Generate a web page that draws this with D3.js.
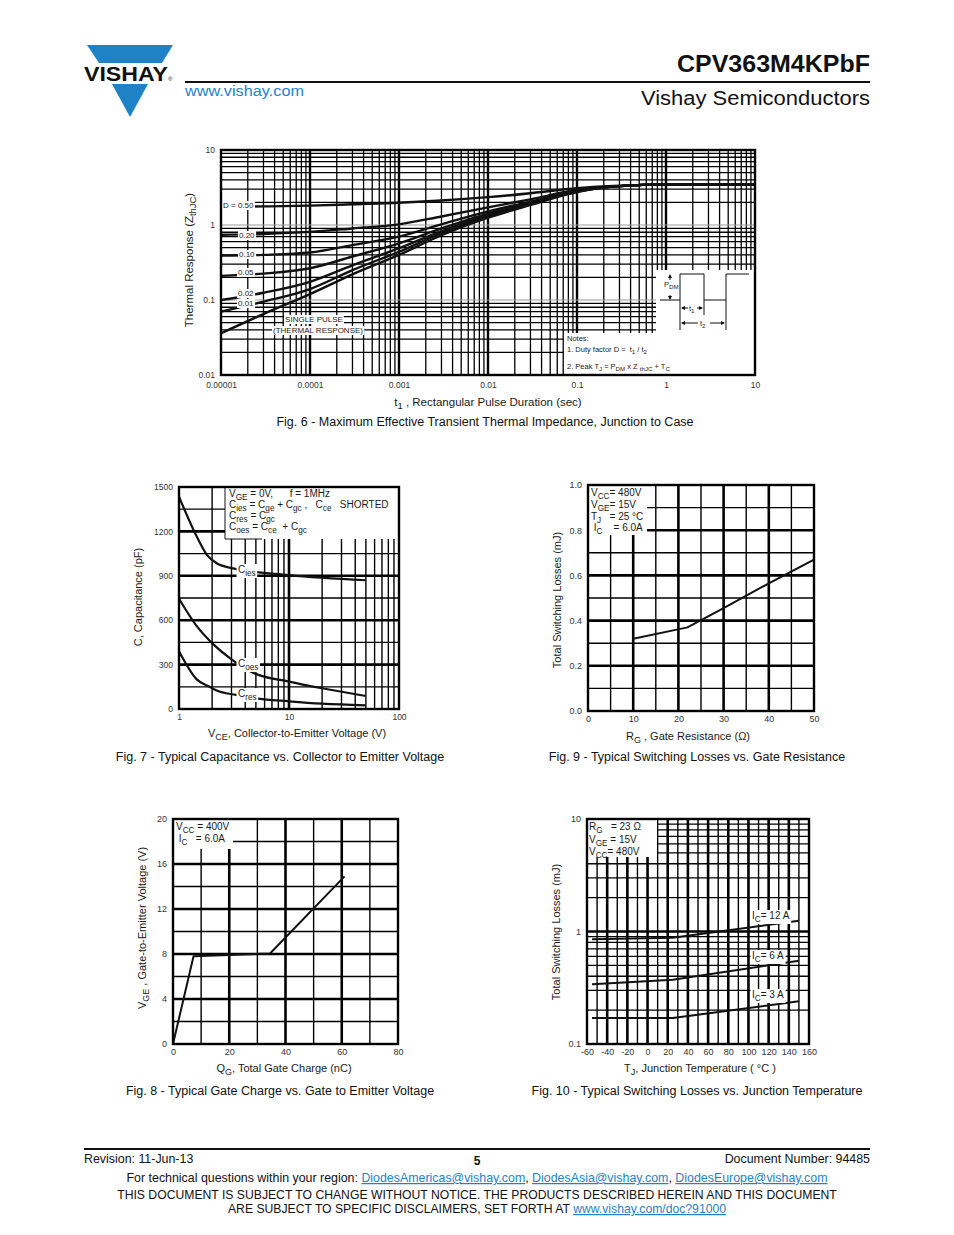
<!DOCTYPE html>
<html>
<head>
<meta charset="utf-8">
<title>CPV363M4KPbF - page 5</title>
<script src="https://cdnjs.cloudflare.com/ajax/libs/d3/7.8.5/d3.min.js"></script>
<style>
  body { margin: 0; background: #fff; }
  svg { display: block; font-family: "Liberation Sans", Arial, Helvetica, sans-serif; }
  text { white-space: pre; }
</style>
</head>
<body>
<svg id="page" width="954" height="1235"></svg>
<script>
// ---------- Fig 6 : transient thermal impedance ----------
const f6Time   = [1e-5, 3e-5, 1e-4, 3e-4, 1e-3, 3e-3, 1e-2, 3e-2, 0.1, 0.3, 1, 10];
const f6D050   = [1.75, 1.77, 1.81, 1.89, 1.98, 2.12, 2.35, 2.65, 3.10, 3.35, 3.45, 3.45];
const f6D020   = [0.74, 0.76, 0.81, 0.90, 1.02, 1.30, 1.72, 2.20, 2.95, 3.30, 3.45, 3.45];
const f6D010   = [0.39, 0.40, 0.43, 0.54, 0.70, 1.02, 1.52, 2.05, 2.90, 3.30, 3.45, 3.45];
const f6D005   = [0.21, 0.225, 0.265, 0.38, 0.57, 0.90, 1.42, 2.00, 2.85, 3.30, 3.45, 3.45];
const f6D002   = [0.10, 0.125, 0.175, 0.29, 0.49, 0.83, 1.35, 1.95, 2.80, 3.30, 3.45, 3.45];
const f6D001   = [0.07, 0.095, 0.14, 0.25, 0.44, 0.78, 1.30, 1.90, 2.78, 3.30, 3.45, 3.45];
const f6Single = [0.036, 0.065, 0.12, 0.22, 0.40, 0.73, 1.25, 1.85, 2.75, 3.30, 3.45, 3.45];
const f6XTicks  = [1e-5, 1e-4, 1e-3, 1e-2, 0.1, 1, 10];
const f6XLabels = ["0.00001", "0.0001", "0.001", "0.01", "0.1", "1", "10"];
const f6YTicks  = [0.01, 0.1, 1, 10];
const f6YLabels = ["0.01", "0.1", "1", "10"];

// ---------- Fig 7 : capacitance ----------
const f7CiesV = [1, 1.45, 1.8, 2.2, 3.1, 10, 50];
const f7Cies  = [1435, 1165, 1040, 985, 950, 905, 870];
const f7CoesV = [1, 1.45, 2, 3, 4.7, 10, 20, 50];
const f7Coes  = [745, 560, 445, 335, 245, 185, 140, 88];
const f7CresV = [1, 1.45, 1.9, 2.2, 3.3, 5, 10, 20, 50];
const f7Cres  = [390, 200, 150, 125, 95, 72, 52, 36, 25];
const f7XTicks  = [1, 10, 100];
const f7XLabels = ["1", "10", "100"];
const f7YTicks  = [0, 300, 600, 900, 1200, 1500];

// ---------- Fig 9 : losses vs gate resistance ----------
const f9Rg   = [10, 22, 30, 40, 50];
const f9Loss = [0.32, 0.37, 0.455, 0.565, 0.67];
const f9XTicks = [0, 10, 20, 30, 40, 50];
const f9YTicks = [0, 0.2, 0.4, 0.6, 0.8, 1.0];

// ---------- Fig 8 : gate charge ----------
const f8Qg  = [0, 7.3, 20, 34.5, 61];
const f8Vge = [0, 7.8, 7.9, 8.05, 14.9];
const f8XTicks = [0, 20, 40, 60, 80];
const f8YTicks = [0, 4, 8, 12, 16, 20];

// ---------- Fig 10 : losses vs junction temperature ----------
const f10Tj    = [-55, 25, 150];
const f10Ic12  = [0.855, 0.88, 1.245];
const f10Ic6   = [0.34, 0.372, 0.55];
const f10Ic3   = [0.17, 0.17, 0.24];
const f10XTicks = [-60, -40, -20, 0, 20, 40, 60, 80, 100, 120, 140, 160];
const f10YTicks = [0.1, 1, 10];
const f10YLabels = ["0.1", "1", "10"];

const FONT = '"Liberation Sans", Arial, Helvetica, sans-serif';
const BLUE = "#1f82c6";
const svg = d3.select("#page");

// ---------- helpers ----------
function logMinors(lo, hi) {
  const v = [];
  for (let d = lo; d < hi * 0.999; d *= 10)
    for (let m = 2; m <= 9; m++) v.push(d * m);
  return v;
}
function inner(lo, hi) {
  const v = [];
  for (let d = lo * 10; d < hi * 0.999; d *= 10) v.push(d);
  return v;
}
function range(a, b, s) { return d3.range(a, b + s / 2, s); }

function vgrid(g, x, p, vals, w, col) {
  g.append("g").selectAll("line").data(vals).join("line")
    .attr("x1", d => x(d)).attr("x2", d => x(d))
    .attr("y1", p.y0).attr("y2", p.y1)
    .attr("stroke", col || "#000").attr("stroke-width", w);
}
function hgrid(g, y, p, vals, w, col) {
  g.append("g").selectAll("line").data(vals).join("line")
    .attr("y1", d => y(d)).attr("y2", d => y(d))
    .attr("x1", p.x0).attr("x2", p.x1)
    .attr("stroke", col || "#000").attr("stroke-width", w);
}
function frame(g, p, w) {
  g.append("rect").attr("x", p.x0).attr("y", p.y0)
    .attr("width", p.x1 - p.x0).attr("height", p.y1 - p.y0)
    .attr("fill", "none").attr("stroke", "#000").attr("stroke-width", w);
}
function whiteBox(g, x, y, w, h) {
  return g.append("rect").attr("x", x).attr("y", y).attr("width", w).attr("height", h).attr("fill", "#fff");
}

// text with subscripts: parts are strings or {s: "sub"}
function rich(parent, x, y, parts, size, anchor, fill) {
  const t = parent.append("text").attr("x", x).attr("y", y)
    .attr("font-size", size).attr("text-anchor", anchor || "start")
    .attr("fill", fill || "#1a1a1a");
  let down = false;
  parts.forEach(p => {
    const sub = typeof p !== "string";
    const s = t.append("tspan").text(sub ? p.s : p);
    if (sub) {
      s.attr("font-size", size * 0.82);
      if (!down) { s.attr("dy", size * 0.3); down = true; }
    } else if (down) { s.attr("dy", -size * 0.3); down = false; }
  });
  return t;
}
function backing(t, px, py) {
  const b = t.node().getBBox();
  d3.select(t.node().parentNode).insert("rect", () => t.node())
    .attr("x", b.x - px).attr("y", b.y - py)
    .attr("width", b.width + 2 * px).attr("height", b.height + 2 * py)
    .attr("fill", "#fff");
}

function bottomLabels(g, x, p, vals, labels, size, pad) {
  const ax = d3.axisBottom(x).tickValues(vals).tickSize(0).tickPadding(pad)
    .tickFormat((d, i) => labels ? labels[i] : d);
  const a = g.append("g").attr("transform", `translate(0,${p.y1})`).call(ax);
  a.select(".domain").remove();
  a.attr("font-family", FONT).attr("font-size", size);
  a.selectAll("text").attr("fill", "#333");
}
function leftLabels(g, y, p, vals, labels, size, pad) {
  const ax = d3.axisLeft(y).tickValues(vals).tickSize(0).tickPadding(pad)
    .tickFormat((d, i) => labels ? labels[i] : d);
  const a = g.append("g").attr("transform", `translate(${p.x0},0)`).call(ax);
  a.select(".domain").remove();
  a.attr("font-family", FONT).attr("font-size", size);
  a.selectAll("text").attr("fill", "#333");
}
function curve(g, x, y, xs, ys, w, kind) {
  g.append("path").datum(d3.zip(xs, ys))
    .attr("d", d3.line().x(d => x(d[0])).y(d => y(d[1])).curve(kind || d3.curveMonotoneX))
    .attr("fill", "none").attr("stroke", "#111").attr("stroke-width", w)
    .attr("stroke-linejoin", "round");
}
function yTitle(g, cx, cy, parts, size) {
  rich(g, 0, 0, parts, size, "middle").attr("transform", `translate(${cx},${cy}) rotate(-90)`);
}
function caption(g, cx, y, str) {
  g.append("text").attr("x", cx).attr("y", y).attr("text-anchor", "middle")
    .attr("font-size", 12.5).attr("fill", "#111").text(str);
}

// ---------- header ----------
const hd = svg.append("g");
hd.append("polygon").attr("points", "87,45 173,45 162,63 99,63").attr("fill", BLUE);
hd.append("polygon").attr("points", "112,84 148,84 130,117").attr("fill", BLUE);
hd.append("text").attr("x", 84).attr("y", 81).attr("font-size", 20).attr("font-weight", "bold")
  .attr("textLength", 84).attr("lengthAdjust", "spacingAndGlyphs").attr("fill", "#111").text("VISHAY");
hd.append("text").attr("x", 168).attr("y", 81).attr("font-size", 6).attr("fill", "#111").text("®");
hd.append("line").attr("x1", 185).attr("x2", 870).attr("y1", 82).attr("y2", 82)
  .attr("stroke", "#111").attr("stroke-width", 2);
hd.append("text").attr("x", 870).attr("y", 72).attr("text-anchor", "end").attr("font-size", 24)
  .attr("font-weight", "bold").attr("textLength", 193).attr("lengthAdjust", "spacingAndGlyphs")
  .attr("fill", "#111").text("CPV363M4KPbF");
hd.append("text").attr("x", 185).attr("y", 96).attr("font-size", 14).attr("fill", BLUE)
  .attr("textLength", 119).attr("lengthAdjust", "spacingAndGlyphs").text("www.vishay.com");
hd.append("text").attr("x", 870).attr("y", 105).attr("text-anchor", "end").attr("font-size", 20)
  .attr("textLength", 229).attr("lengthAdjust", "spacingAndGlyphs").attr("fill", "#111")
  .text("Vishay Semiconductors");

// ---------- Fig 6 ----------
{
  const p = { x0: 221, x1: 755, y0: 150, y1: 375 };
  const g = svg.append("g");
  const x = d3.scaleLog().domain([1e-5, 10]).range([p.x0, p.x1]);
  const y = d3.scaleLog().domain([0.01, 10]).range([p.y1, p.y0]);
  vgrid(g, x, p, logMinors(1e-5, 10), 1.3);
  vgrid(g, x, p, inner(1e-5, 10), 2.4);
  hgrid(g, y, p, logMinors(0.01, 10), 1.3);
  hgrid(g, y, p, inner(0.01, 10), 1, "#9a9a9a");

  // notes and pulse inset area
  whiteBox(g, 564, 333, p.x1 - 564, p.y1 - 333);
  whiteBox(g, 656, 270, p.x1 - 656, 64);

  [f6D050, f6D020, f6D010, f6D005, f6D002, f6D001, f6Single].forEach(s => curve(g, x, y, f6Time, s, 2.4));

  const lab = [["D = 0.50", 223, 208], ["0.20", 239, 238], ["0.10", 239, 257], ["0.05", 238, 275],
               ["0.02", 238, 296], ["0.01", 238, 306]];
  lab.forEach(l => backing(rich(g, l[1], l[2], [l[0]], 8), 1, 0));
  backing(rich(g, 314, 322, ["SINGLE PULSE"], 8, "middle"), 1, 0);
  backing(rich(g, 318, 333, ["(THERMAL RESPONSE)"], 8, "middle"), 1, 0);

  // pulse waveform inset
  const ins = g.append("g").attr("stroke", "#111").attr("fill", "none").attr("stroke-width", 1);
  ins.append("path").attr("d", "M660,300 H680 V274 H704 V300 H726 V274 H749");
  ins.append("path").attr("d", "M680,300 V330 M704,300 V315 M726,300 V330");
  ins.append("path").attr("d", "M682,308 H688 M697,308 H702 M682,323 H698 M710,323 H724");
  ins.append("path").attr("d", "M670,276 V280 M670,295 V299");
  const ah = g.append("g").attr("fill", "#111");
  ah.append("path").attr("d", "M681,308 l4,-2 v4 z M703,308 l-4,-2 v4 z M681,323 l4,-2 v4 z M725,323 l-4,-2 v4 z");
  ah.append("path").attr("d", "M670,274 l-2,4 h4 z M670,300 l-2,-4 h4 z");
  rich(g, 664, 287, ["P", { s: "DM" }], 7.5);
  rich(g, 689, 311, ["t", { s: "1" }], 7.5);
  rich(g, 700, 326, ["t", { s: "2" }], 7.5);

  rich(g, 567, 341, ["Notes:"], 7.5);
  rich(g, 567, 352, ["1. Duty factor D =  t", { s: "1" }, " / t", { s: "2" }], 7.5);
  rich(g, 567, 369, ["2. Peak T", { s: "J" }, " = P", { s: "DM" }, " x Z ", { s: "thJC" }, " + T", { s: "C" }], 7.5);

  frame(g, p, 2.4);
  bottomLabels(g, x, p, f6XTicks, f6XLabels, 8.5, 7);
  leftLabels(g, y, p, f6YTicks, f6YLabels, 8.5, 6);
  rich(g, 488, 406, ["t", { s: "1" }, " , Rectangular Pulse Duration (sec)"], 11.5, "middle");
  yTitle(g, 193, 260, ["Thermal Response (Z", { s: "thJC" }, ")"], 11.5);
  caption(g, 485, 426, "Fig. 6 - Maximum Effective Transient Thermal Impedance, Junction to Case");
}

// ---------- Fig 7 ----------
{
  const p = { x0: 179, x1: 399, y0: 487, y1: 709 };
  const g = svg.append("g");
  const x = d3.scaleLog().domain([1, 100]).range([p.x0, p.x1]);
  const y = d3.scaleLinear().domain([0, 1500]).range([p.y1, p.y0]);
  vgrid(g, x, p, logMinors(1, 100), 1.4);
  vgrid(g, x, p, inner(1, 100), 2.6);
  hgrid(g, y, p, range(150, 1350, 300), 1.3);
  hgrid(g, y, p, range(300, 1200, 300), 2.6);

  whiteBox(g, 225, p.y0, p.x1 - 225, 52);
  g.append("path").attr("d", `M225,${p.y0} V539 H262`).attr("fill", "none").attr("stroke", "#111").attr("stroke-width", 1);

  curve(g, x, y, f7CiesV, f7Cies, 2.2);
  curve(g, x, y, f7CoesV, f7Coes, 2.2);
  curve(g, x, y, f7CresV, f7Cres, 2.2);

  backing(rich(g, 238, 573, ["C", { s: "ies" }], 10), 1.5, 0);
  backing(rich(g, 238, 667, ["C", { s: "oes" }], 10), 1.5, 0);
  backing(rich(g, 238, 697, ["C", { s: "res" }], 10), 1.5, 0);

  rich(g, 229, 497, ["V", { s: "GE" }, " = 0V,      f = 1MHz"], 10);
  rich(g, 229, 508, ["C", { s: "ies" }, " = C", { s: "ge" }, " + C", { s: "gc" }, " ,   C", { s: "ce" }, "   SHORTED"], 10);
  rich(g, 229, 519, ["C", { s: "res" }, " = C", { s: "gc" }], 10);
  rich(g, 229, 530, ["C", { s: "oes" }, " = C", { s: "ce" }, "  + C", { s: "gc" }], 10);

  frame(g, p, 2.4);
  bottomLabels(g, x, p, f7XTicks, f7XLabels, 8.5, 5);
  leftLabels(g, y, p, f7YTicks, null, 8.5, 6);
  rich(g, 297, 737, ["V", { s: "CE" }, ", Collector-to-Emitter Voltage (V)"], 11, "middle");
  yTitle(g, 142, 597, ["C, Capacitance (pF)"], 11);
  caption(g, 280, 761, "Fig. 7 - Typical Capacitance vs. Collector to Emitter Voltage");
}

// ---------- Fig 9 ----------
{
  const p = { x0: 588, x1: 814, y0: 485, y1: 711 };
  const g = svg.append("g");
  const x = d3.scaleLinear().domain([0, 50]).range([p.x0, p.x1]);
  const y = d3.scaleLinear().domain([0, 1]).range([p.y1, p.y0]);
  vgrid(g, x, p, range(5, 45, 10), 1.4);
  vgrid(g, x, p, range(10, 40, 10), 2.6);
  hgrid(g, y, p, range(0.1, 0.9, 0.2), 1.4);
  hgrid(g, y, p, range(0.2, 0.8, 0.2), 2.6);
  whiteBox(g, p.x0, p.y0, 59, 50);
  curve(g, x, y, f9Rg, f9Loss, 2, d3.curveLinear);

  rich(g, 591, 496, ["V", { s: "CC" }, "= 480V"], 10);
  rich(g, 591, 508, ["V", { s: "GE" }, "= 15V"], 10);
  rich(g, 591, 520, ["T", { s: "J" }, "   = 25 °C"], 10);
  rich(g, 591, 531, [" I", { s: "C" }, "    = 6.0A"], 10);

  frame(g, p, 2.4);
  bottomLabels(g, x, p, f9XTicks, null, 9, 5);
  leftLabels(g, y, p, f9YTicks, f9YTicks.map(d3.format(".1f")), 9, 6);
  rich(g, 688, 740, ["R", { s: "G" }, " , Gate Resistance (Ω)"], 11, "middle");
  yTitle(g, 561, 600, ["Total Switching Losses (mJ)"], 11);
  caption(g, 697, 761, "Fig. 9 - Typical Switching Losses vs. Gate Resistance");
}

// ---------- Fig 8 ----------
{
  const p = { x0: 173, x1: 398, y0: 819, y1: 1044 };
  const g = svg.append("g");
  const x = d3.scaleLinear().domain([0, 80]).range([p.x0, p.x1]);
  const y = d3.scaleLinear().domain([0, 20]).range([p.y1, p.y0]);
  vgrid(g, x, p, range(10, 70, 20), 1.4);
  vgrid(g, x, p, range(20, 60, 20), 2.6);
  hgrid(g, y, p, range(2, 18, 4), 1.4);
  hgrid(g, y, p, range(4, 16, 4), 2.6);
  whiteBox(g, p.x0, p.y0, 60, 30);
  curve(g, x, y, f8Qg, f8Vge, 2, d3.curveLinear);

  rich(g, 176, 830, ["V", { s: "CC" }, " = 400V"], 10);
  rich(g, 176, 842, [" I", { s: "C" }, "   = 6.0A"], 10);

  frame(g, p, 2.4);
  bottomLabels(g, x, p, f8XTicks, null, 9, 5);
  leftLabels(g, y, p, f8YTicks, null, 9, 6);
  rich(g, 284, 1072, ["Q", { s: "G" }, ", Total Gate Charge (nC)"], 11, "middle");
  yTitle(g, 146, 928, ["V", { s: "GE" }, " , Gate-to-Emitter Voltage (V)"], 11);
  caption(g, 280, 1095, "Fig. 8 - Typical Gate Charge vs. Gate to Emitter Voltage");
}

// ---------- Fig 10 ----------
{
  const p = { x0: 587, x1: 809, y0: 819, y1: 1044 };
  const g = svg.append("g");
  const x = d3.scaleLinear().domain([-60, 160]).range([p.x0, p.x1]);
  const y = d3.scaleLog().domain([0.1, 10]).range([p.y1, p.y0]);
  vgrid(g, x, p, range(-50, 150, 20), 1.4);
  vgrid(g, x, p, range(-40, 140, 20), 2.6);
  hgrid(g, y, p, logMinors(0.1, 10), 1.3);
  hgrid(g, y, p, [1], 2.6);
  whiteBox(g, p.x0, p.y0, 70, 38);

  curve(g, x, y, f10Tj, f10Ic12, 2, d3.curveLinear);
  curve(g, x, y, f10Tj, f10Ic6, 2, d3.curveLinear);
  curve(g, x, y, f10Tj, f10Ic3, 2, d3.curveLinear);

  backing(rich(g, 752, 919, ["I", { s: "C" }, "= 12 A"], 10), 1.5, 0);
  backing(rich(g, 752, 959, ["I", { s: "C" }, "= 6 A"], 10), 1.5, 0);
  backing(rich(g, 752, 998, ["I", { s: "C" }, "= 3 A"], 10), 1.5, 0);

  rich(g, 589, 830, ["R", { s: "G" }, "   = 23 Ω"], 10);
  rich(g, 589, 843, ["V", { s: "GE" }, " = 15V"], 10);
  rich(g, 589, 855, ["V", { s: "CC" }, "= 480V"], 10);

  frame(g, p, 2.4);
  bottomLabels(g, x, p, f10XTicks, null, 9, 5);
  leftLabels(g, y, p, f10YTicks, f10YLabels, 9, 6);
  rich(g, 700, 1072, ["T", { s: "J" }, ", Junction Temperature ( °C )"], 11, "middle");
  yTitle(g, 560, 932, ["Total Switching Losses (mJ)"], 11);
  caption(g, 697, 1095, "Fig. 10 - Typical Switching Losses vs. Junction Temperature");
}

// ---------- footer ----------
const ft = svg.append("g").attr("fill", "#111");
ft.append("line").attr("x1", 84).attr("x2", 870).attr("y1", 1149).attr("y2", 1149)
  .attr("stroke", "#111").attr("stroke-width", 2);
ft.append("text").attr("x", 84).attr("y", 1163).attr("font-size", 12.4).text("Revision: 11-Jun-13");
ft.append("text").attr("x", 477).attr("y", 1165).attr("font-size", 12).attr("font-weight", "bold")
  .attr("text-anchor", "middle").text("5");
ft.append("text").attr("x", 870).attr("y", 1163).attr("font-size", 12.4).attr("text-anchor", "end")
  .text("Document Number: 94485");
const q = ft.append("text").attr("x", 477).attr("y", 1182).attr("font-size", 12.4).attr("text-anchor", "middle");
[["For technical questions within your region: ", 0], ["DiodesAmericas@vishay.com", 1], [", ", 0],
 ["DiodesAsia@vishay.com", 1], [", ", 0], ["DiodesEurope@vishay.com", 1]].forEach(s => {
  const t = q.append("tspan").text(s[0]);
  if (s[1]) t.attr("fill", BLUE).attr("text-decoration", "underline");
});
ft.append("text").attr("x", 477).attr("y", 1199).attr("font-size", 12.2).attr("text-anchor", "middle")
  .text("THIS DOCUMENT IS SUBJECT TO CHANGE WITHOUT NOTICE. THE PRODUCTS DESCRIBED HEREIN AND THIS DOCUMENT");
const d2 = ft.append("text").attr("x", 477).attr("y", 1213).attr("font-size", 12.2).attr("text-anchor", "middle");
d2.append("tspan").text("ARE SUBJECT TO SPECIFIC DISCLAIMERS, SET FORTH AT ");
d2.append("tspan").attr("fill", BLUE).attr("text-decoration", "underline").text("www.vishay.com/doc?91000");
</script>
</body>
</html>
